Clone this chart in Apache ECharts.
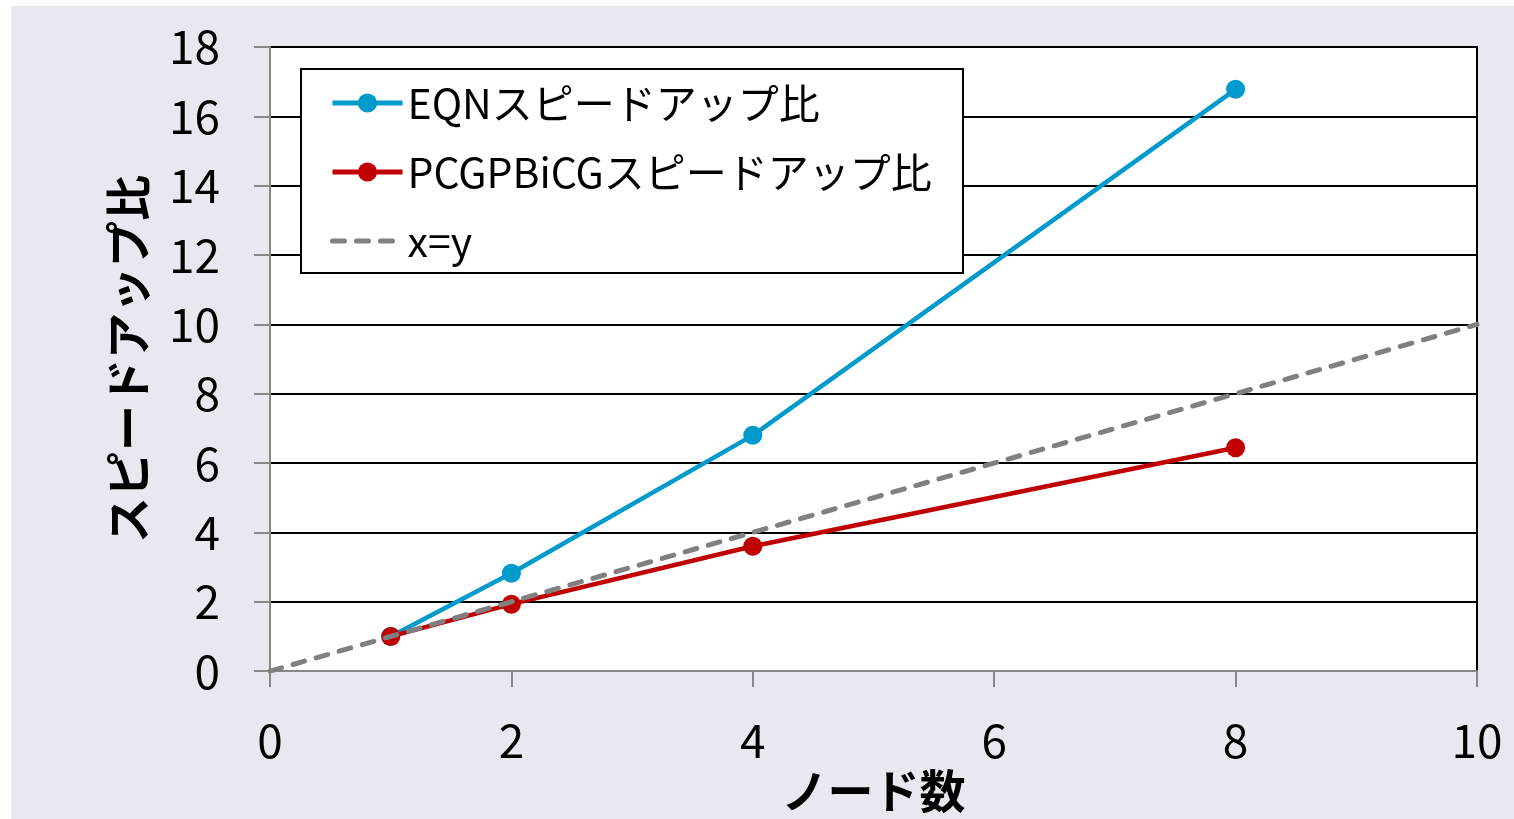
<!DOCTYPE html>
<html>
<head>
<meta charset="utf-8">
<script src="https://cdn.jsdelivr.net/npm/echarts@6/dist/echarts.min.js"></script>
<style>
  html, body { margin: 0; padding: 0; background: #ffffff; }
  #chart { width: 1514px; height: 819px; }
</style>
</head>
<body>
<div id="chart"></div>
<script>
// Node counts and measured speed-up ratios
const nodes = [1, 2, 4, 8];
const eqnSpeedup = [1.0, 2.82, 6.8, 16.78];
const pcgSpeedup = [1.0, 1.93, 3.6, 6.44];
// Ideal linear speed-up reference line
const idealX = [0, 10];
const idealY = [0, 10];

const seriesNames = ['EQNスピードアップ比', 'PCGPBiCGスピードアップ比', 'x=y'];
const xAxisTitle = 'ノード数';
const yAxisTitle = 'スピードアップ比';

const FONT = '"Noto Sans CJK JP", "Noto Sans", sans-serif';
const BLUE = '#009bcc';
const RED = '#c00000';
const GRAY = '#808080';
const DASH = [12, 12];

const pairs = (xs, ys) => xs.map((x, i) => [x, ys[i]]);

const chart = echarts.init(document.getElementById('chart'), null, { renderer: 'canvas' });

chart.setOption({
  animation: false,
  backgroundColor: '#ffffff',
  textStyle: { fontFamily: FONT },
  graphic: [
    {
      type: 'rect', z: -10, silent: true,
      shape: { x: 11, y: 6, width: 1503, height: 813 },
      style: { fill: '#e8e8f0' }
    },
    {
      type: 'rect', z: 50, silent: true,
      shape: { x: 301, y: 69, width: 662, height: 204 },
      style: { fill: '#ffffff', stroke: '#000000', lineWidth: 2 }
    }
  ],
  grid: {
    left: 270, right: 37, top: 47, bottom: 144,
    show: true,
    backgroundColor: '#ffffff',
    borderColor: '#000000',
    borderWidth: 2
  },
  legend: {
    orient: 'vertical',
    left: 330, top: 79,
    padding: 0,
    z: 60,
    itemWidth: 70, itemHeight: 24,
    itemGap: 21,
    data: [
      { name: seriesNames[0], lineStyle: { color: BLUE, width: 5 }, itemStyle: { color: BLUE } },
      { name: seriesNames[1], lineStyle: { color: RED, width: 5 }, itemStyle: { color: RED } },
      { name: seriesNames[2], lineStyle: { color: GRAY, width: 5, type: DASH, cap: 'round' }, itemStyle: { opacity: 0 } }
    ],
    textStyle: { fontFamily: FONT, fontSize: 41, lineHeight: 48, color: '#000000' }
  },
  xAxis: {
    type: 'value',
    min: 0, max: 10, interval: 2,
    name: xAxisTitle,
    nameLocation: 'middle',
    nameGap: 90,
    nameTextStyle: { fontFamily: FONT, fontSize: 46, fontWeight: 'bold', color: '#000000' },
    axisLine: { show: true, lineStyle: { color: '#888888', width: 2 } },
    axisTick: { show: true, inside: false, length: 16, lineStyle: { color: '#888888', width: 2 } },
    axisLabel: { fontFamily: FONT, fontSize: 46, color: '#000000', margin: 46 },
    splitLine: { show: false }
  },
  yAxis: {
    type: 'value',
    min: 0, max: 18, interval: 2,
    name: yAxisTitle,
    nameLocation: 'middle',
    nameGap: 119,
    nameRotate: 90,
    nameTextStyle: { fontFamily: FONT, fontSize: 46, fontWeight: 'bold', color: '#000000' },
    axisLine: { show: true, lineStyle: { color: '#888888', width: 2 } },
    axisTick: { show: true, inside: false, length: 16, lineStyle: { color: '#888888', width: 2 } },
    axisLabel: { fontFamily: FONT, fontSize: 46, color: '#000000', margin: 50 },
    splitLine: { show: true, lineStyle: { color: '#000000', width: 2 } }
  },
  series: [
    {
      name: seriesNames[0],
      type: 'line',
      data: pairs(nodes, eqnSpeedup),
      symbol: 'circle', symbolSize: 19,
      lineStyle: { color: BLUE, width: 4.5 },
      itemStyle: { color: BLUE },
      z: 3
    },
    {
      name: seriesNames[1],
      type: 'line',
      data: pairs(nodes, pcgSpeedup),
      symbol: 'circle', symbolSize: 19,
      lineStyle: { color: RED, width: 4.5 },
      itemStyle: { color: RED },
      z: 4
    },
    {
      name: seriesNames[2],
      type: 'line',
      data: pairs(idealX, idealY),
      symbol: 'none',
      lineStyle: { color: GRAY, width: 5, type: DASH, cap: 'round' },
      itemStyle: { color: GRAY },
      z: 5
    }
  ]
});
</script>
</body>
</html>
